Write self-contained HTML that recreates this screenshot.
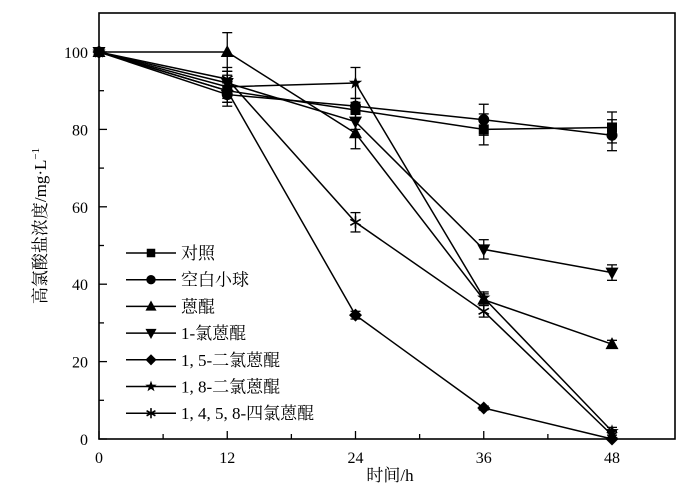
<!DOCTYPE html>
<html><head><meta charset="utf-8">
<style>
html,body{margin:0;padding:0;background:#fff;}
svg{display:block;}
text{font-family:"Liberation Serif","Noto Serif CJK SC","Noto Sans CJK SC",serif;fill:#000;}
</style></head>
<body>
<svg id="s" width="700" height="498" viewBox="0 0 700 498" xmlns="http://www.w3.org/2000/svg">
<rect x="99" y="13" width="576" height="426" fill="none" stroke="#000" stroke-width="1.6"/>
<g id="g"></g>
<text x="0" y="0" font-size="17" text-anchor="middle" transform="translate(46,226) rotate(-90)">高氯酸盐浓度/mg·L<tspan font-size="11" dy="-7">−1</tspan></text>
<text x="390" y="481" font-size="17" text-anchor="middle">时间/h</text>
</svg>
<script>
const g=document.getElementById('g');
function X(t){return 99+t*(612-99)/48;}
function Y(v){return 439-v*3.87;}
let h='';
for(let v=0;v<=100;v+=10){const y=Y(v);const L=v%20==0?8:5;h+=`<line x1="99" y1="${y}" x2="${99+L}" y2="${y}" stroke="#000" stroke-width="1.3"/>`;
 if(v%20==0)h+=`<text x="88" y="${y+6}" font-size="16" text-anchor="end">${v}</text>`;}
for(let t=0;t<=54;t+=6){const x=X(t);if(x>675)break;const L=t%12==0?8:5;h+=`<line x1="${x}" y1="439" x2="${x}" y2="${439-L}" stroke="#000" stroke-width="1.3"/>`;
 if(t%12==0&&t<=48)h+=`<text x="${x}" y="463" font-size="16" text-anchor="middle">${t}</text>`;}
const T=[0,12,24,36,48];
const S=[
 {m:'sq',d:[100,90,85,80,80.5],e:[0,3,2,4,4]},
 {m:'ci',d:[100,89,86,82.5,78.5],e:[0,3,2,4,4]},
 {m:'tu',d:[100,100,79,36,24.5],e:[0,5,4,1.5,1]},
 {m:'td',d:[100,92,82,49,43],e:[0,3,2,2.5,2]},
 {m:'di',d:[100,90,32,8,0],e:[0,3,1,0.5,0]},
 {m:'st',d:[100,91,92,36.5,2],e:[0,3,4,1.5,1]},
 {m:'as',d:[100,93,56,33,1],e:[0,3,2.5,1.5,1]}];
function mk(m,x,y,s){s=s||1;
 switch(m){
 case 'sq':return `<rect x="${x-5*s}" y="${y-5*s}" width="${10*s}" height="${10*s}"/>`;
 case 'ci':return `<circle cx="${x}" cy="${y}" r="${5.5*s}"/>`;
 case 'tu':return `<polygon points="${x},${y-7*s} ${x-6.5*s},${y+5*s} ${x+6.5*s},${y+5*s}"/>`;
 case 'td':return `<polygon points="${x},${y+7*s} ${x-6.5*s},${y-5*s} ${x+6.5*s},${y-5*s}"/>`;
 case 'di':return `<polygon points="${x},${y-6.5*s} ${x+6.5*s},${y} ${x},${y+6.5*s} ${x-6.5*s},${y}"/>`;
 case 'st':{let p=[];for(let i=0;i<10;i++){const r=i%2?2.8*s:7*s;const a=-Math.PI/2+i*Math.PI/5;p.push((x+r*Math.cos(a)).toFixed(1)+','+(y+r*Math.sin(a)).toFixed(1));}return `<polygon points="${p.join(' ')}"/>`;}
 case 'as':{let r=6*s,o='';for(let i=0;i<3;i++){const a=Math.PI/2+i*Math.PI/3;o+=`<line x1="${x-r*Math.cos(a)}" y1="${y-r*Math.sin(a)}" x2="${x+r*Math.cos(a)}" y2="${y+r*Math.sin(a)}" stroke="#000" stroke-width="1.6"/>`;}return o;}
 }}
S.forEach(s=>{
 h+=`<polyline fill="none" stroke="#000" stroke-width="1.5" points="${T.map((t,i)=>X(t)+','+Y(s.d[i])).join(' ')}"/>`;
 T.forEach((t,i)=>{const x=X(t),y=Y(s.d[i]),e=s.e[i]*3.87;if(e>0){h+=`<line x1="${x}" y1="${y-e}" x2="${x}" y2="${y+e}" stroke="#000" stroke-width="1.3"/><line x1="${x-5}" y1="${y-e}" x2="${x+5}" y2="${y-e}" stroke="#000" stroke-width="1.3"/><line x1="${x-5}" y1="${y+e}" x2="${x+5}" y2="${y+e}" stroke="#000" stroke-width="1.3"/>`;}
  h+=mk(s.m,x,y);});
});
const names=['对照','空白小球','蒽醌','1-氯蒽醌','1, 5-二氯蒽醌','1, 8-二氯蒽醌','1, 4, 5, 8-四氯蒽醌'];
names.forEach((n,i)=>{const y=253+i*26.7;
 h+=`<line x1="126" y1="${y}" x2="176" y2="${y}" stroke="#000" stroke-width="1.5"/>`+mk(S[i].m,151,y,0.85)+`<text x="181" y="${y+6}" font-size="17">${n}</text>`;});
g.innerHTML=h;
</script>
</body></html>
